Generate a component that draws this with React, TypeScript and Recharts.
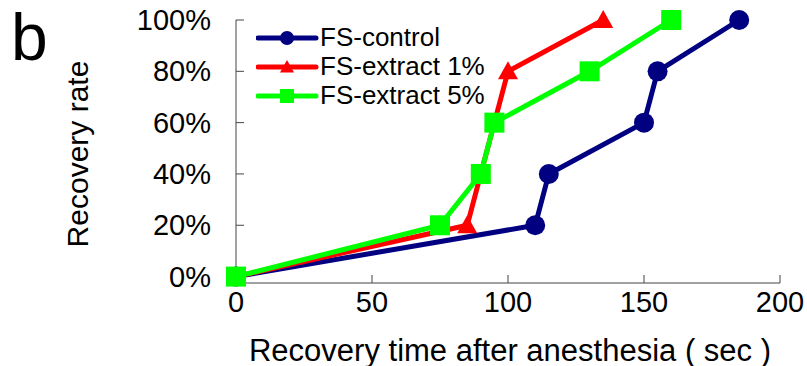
import { LineChart, Line, XAxis, YAxis } from "recharts";

const FONT = '"Liberation Sans", Arial, sans-serif';

// x = recovery time (sec), y = recovery rate (%)
const controlTime = [0, 110, 115, 150, 155, 185];
const extract1Time = [0, 85, 90, 95, 100, 135];
const extract5Time = [0, 75, 90, 95, 130, 160];
const recoveryRate = [0, 20, 40, 60, 80, 100];

const xTicks = [0, 50, 100, 150, 200];
const yTicks = [0, 20, 40, 60, 80, 100];

const toPoints = (xs: number[]) => xs.map((t, i) => ({ t, rate: recoveryRate[i] }));

const SERIES = [
  { name: "FS-control", color: "#000080", shape: "circle", data: toPoints(controlTime) },
  { name: "FS-extract 1%", color: "#ff0000", shape: "triangle", data: toPoints(extract1Time) },
  { name: "FS-extract 5%", color: "#00ff00", shape: "square", data: toPoints(extract5Time) },
];

function Marker({ cx, cy, shape, color, size = 10 }: any) {
  if (cx == null || cy == null) return null;
  if (shape === "circle") return <circle cx={cx} cy={cy} r={size} fill={color} />;
  if (shape === "triangle")
    return (
      <polygon
        points={`${cx},${cy - size} ${cx - size},${cy + size * 0.8} ${cx + size},${cy + size * 0.8}`}
        fill={color}
      />
    );
  return <rect x={cx - size} y={cy - size} width={size * 2} height={size * 2} fill={color} />;
}

function YTick({ x, y, payload }: any) {
  return (
    <g>
      {payload.value !== 0 && <line x1={x} x2={x + 8} y1={y} y2={y} stroke="#444" strokeWidth={1} />}
      <text x={x - 25} y={y} textAnchor="end" dominantBaseline="central" fontSize={29} fill="#000" fontFamily={FONT}>
        {payload.value}%
      </text>
    </g>
  );
}

function XTick({ x, y, payload }: any) {
  return (
    <g>
      {payload.value !== 0 && <line x1={x} x2={x} y1={y} y2={y - 8} stroke="#444" strokeWidth={1} />}
      <text x={x} y={y + 19} textAnchor="middle" dominantBaseline="central" fontSize={29} fill="#000" fontFamily={FONT}>
        {payload.value}
      </text>
    </g>
  );
}

function LegendBox() {
  return (
    <div style={{ position: "absolute", left: 256, top: 23, fontFamily: FONT, fontSize: 26 }}>
      {SERIES.map((s) => (
        <div key={s.name} style={{ display: "flex", alignItems: "center", height: 29 }}>
          <svg width={64} height={24}>
            <line x1={2} x2={60} y1={12} y2={12} stroke={s.color} strokeWidth={5} strokeLinecap="round" />
            <Marker cx={31} cy={12} shape={s.shape} color={s.color} size={7} />
          </svg>
          <span style={{ lineHeight: "29px" }}>{s.name}</span>
        </div>
      ))}
    </div>
  );
}

export default function App() {
  return (
    <div style={{ position: "absolute", left: 0, top: 0, width: 807, height: 366, background: "#fff" }}>
      <div style={{ position: "absolute", left: 11, top: 4, fontFamily: FONT, fontSize: 66, lineHeight: "66px" }}>b</div>
      <LineChart width={807} height={366} margin={{ top: 20, right: 27, bottom: 0, left: 0 }}>
        <XAxis
          type="number"
          dataKey="t"
          domain={[0, 200]}
          ticks={xTicks}
          height={83}
          tickSize={0}
          tickMargin={0}
          tick={<XTick />}
          stroke="#444"
          allowDuplicatedCategory={false}
          label={() => (
            <text x={510} y={350} textAnchor="middle" dominantBaseline="central" fontSize={31} fontFamily={FONT} fill="#000">
              Recovery time after anesthesia ( sec )
            </text>
          )}
        />
        <YAxis
          type="number"
          dataKey="rate"
          domain={[-2.5, 100]}
          ticks={yTicks}
          width={236}
          tickSize={0}
          tickMargin={0}
          tick={<YTick />}
          stroke="#444"
          label={() => (
            <text
              x={77}
              y={154}
              transform="rotate(-90, 77, 154)"
              textAnchor="middle"
              dominantBaseline="central"
              fontSize={30}
              fontFamily={FONT}
              fill="#000"
            >
              Recovery rate
            </text>
          )}
        />
        {SERIES.map((s) => (
          <Line
            key={s.name}
            data={s.data}
            dataKey="rate"
            name={s.name}
            stroke={s.color}
            strokeWidth={5}
            dot={(p: any) => <Marker key={`${s.name}-${p.index}`} cx={p.cx} cy={p.cy} shape={s.shape} color={s.color} />}
            isAnimationActive={false}
          />
        ))}
      </LineChart>
      <LegendBox />
    </div>
  );
}
